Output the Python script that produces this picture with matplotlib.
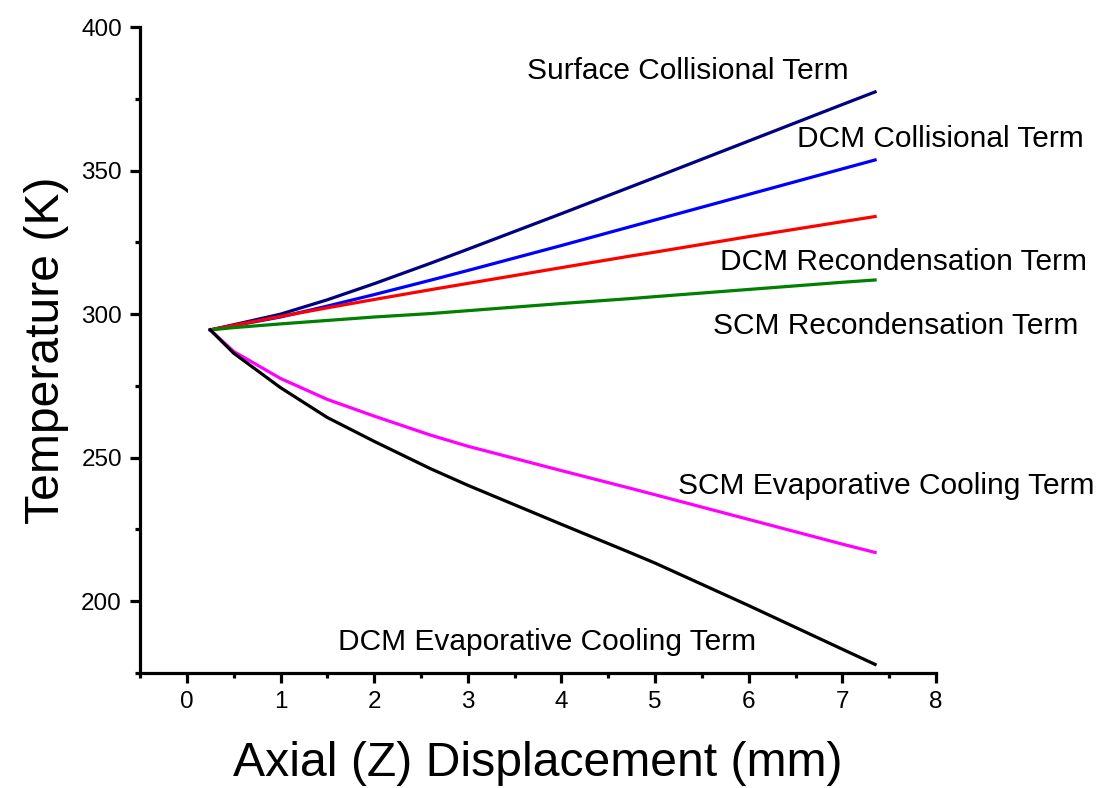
import matplotlib.pyplot as plt
from matplotlib.ticker import MultipleLocator

plt.rcParams['font.family'] = ['Liberation Sans', 'DejaVu Sans']

# Axial positions (mm) where the temperatures were sampled
z = [0.25, 0.5, 1, 1.5, 2, 2.6, 3, 4, 4.73, 5, 6, 7, 7.35]

# Temperature (K) for each contribution
surface_coll = [294.5, 296.3, 300.0, 305.0, 310.6, 317.7, 322.6, 335.0, 344.2, 347.6, 360.3, 373.0, 377.4]
dcm_coll = [294.5, 296.0, 299.0, 302.8, 306.8, 311.8, 315.2, 323.9, 330.4, 332.8, 341.7, 350.6, 353.7]
dcm_recond = [294.5, 296.1, 299.2, 302.2, 305.1, 308.5, 310.7, 316.2, 320.2, 321.6, 327.0, 332.2, 334.0]
scm_recond = [294.5, 295.3, 296.6, 297.8, 299.0, 300.2, 301.2, 303.7, 305.4, 306.1, 308.6, 311.1, 311.9]
scm_evap = [294.5, 287.0, 277.6, 270.3, 264.5, 257.9, 254.0, 245.5, 239.4, 237.1, 228.5, 219.9, 217.0]
dcm_evap = [294.5, 286.4, 274.4, 264.0, 255.7, 246.2, 240.4, 226.8, 217.0, 213.3, 198.5, 183.3, 178.0]

series = [
    (surface_coll, '#000080', 'Surface Collisional Term', (3.63, 384.7)),
    (dcm_coll, '#0000FF', 'DCM Collisional Term', (6.52, 361.0)),
    (dcm_recond, '#FF0000', 'DCM Recondensation Term', (5.69, 318.3)),
    (scm_recond, '#008000', 'SCM Recondensation Term', (5.62, 296.0)),
    (scm_evap, '#FF00FF', 'SCM Evaporative Cooling Term', (5.25, 240.0)),
    (dcm_evap, '#000000', 'DCM Evaporative Cooling Term', (1.61, 185.7)),
]

fig = plt.figure(figsize=(11.01, 7.88), dpi=100)
ax = fig.add_axes([0.1272, 0.1459, 0.7229, 0.8198])

for temps, color, name, (tx, ty) in series:
    ax.plot(z, temps, color=color, linewidth=2.3, solid_joinstyle='round')
    ax.text(tx, ty, name, fontsize=21.5, va='center', ha='left', clip_on=False)

ax.set_xlim(-0.5, 8)
ax.set_ylim(175, 400)
ax.xaxis.set_major_locator(MultipleLocator(1))
ax.xaxis.set_minor_locator(MultipleLocator(0.5))
ax.yaxis.set_major_locator(MultipleLocator(50))
ax.yaxis.set_minor_locator(MultipleLocator(25))

for side in ['top', 'right']:
    ax.spines[side].set_visible(False)
for side in ['left', 'bottom']:
    ax.spines[side].set_linewidth(2.3)

ax.tick_params(which='major', direction='out', length=7, width=2.3, labelsize=17.5, pad=6)
ax.tick_params(which='minor', direction='out', length=3.5, width=2.3)

ax.set_xlabel('Axial (Z) Displacement (mm)', fontsize=34.7, labelpad=20)
ax.set_ylabel('Temperature (K)', fontsize=34.7, labelpad=9)

fig.savefig('out.png', dpi=100)
